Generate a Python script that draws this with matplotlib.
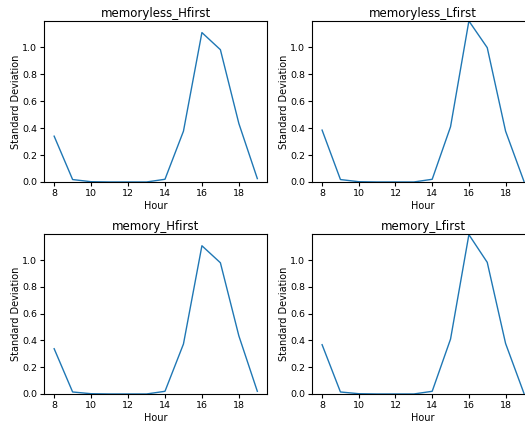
import matplotlib.pyplot as plt
import numpy as np

hours = np.arange(8, 20)

# standard deviation per hour for each scheduling variant
memoryless_hfirst = [0.34, 0.018, 0.002, 0.0, 0.0, 0.0, 0.02, 0.377, 1.109, 0.982, 0.434, 0.025]
memoryless_lfirst = [0.385, 0.018, 0.002, 0.0, 0.0, 0.0, 0.02, 0.41, 1.195, 0.997, 0.377, 0.005]
memory_hfirst = [0.338, 0.015, 0.002, 0.0, 0.0, 0.0, 0.02, 0.373, 1.107, 0.98, 0.434, 0.02]
memory_lfirst = [0.368, 0.015, 0.002, 0.0, 0.0, 0.0, 0.02, 0.41, 1.19, 0.983, 0.377, 0.005]

titles = ['memoryless_Hfirst', 'memoryless_Lfirst', 'memory_Hfirst', 'memory_Lfirst']
series = [memoryless_hfirst, memoryless_lfirst, memory_hfirst, memory_lfirst]

fig = plt.figure(figsize=(5.25, 4.24), dpi=100)
boxes = [
    [0.0838, 0.5708, 0.4257, 0.3797],
    [0.5943, 0.5708, 0.4229, 0.3797],
    [0.0838, 0.0708, 0.4257, 0.3774],
    [0.5943, 0.0708, 0.4229, 0.3774],
]
ymax = max(max(s) for s in series)

for box, title, y in zip(boxes, titles, series):
    ax = fig.add_axes(box)
    ax.plot(hours, y, color='tab:blue', linewidth=1.0)
    ax.set_ylim(0, ymax)
    ax.set_yticks(np.arange(0, 1.1, 0.2))
    ax.set_title(title, fontsize=8.5, pad=3)
    ax.set_xlabel('Hour', fontsize=7, labelpad=2)
    ax.set_ylabel('Standard Deviation', fontsize=7, labelpad=1)
    ax.tick_params(labelsize=6.8, length=3, pad=2)

plt.savefig('out.png', dpi=100)
